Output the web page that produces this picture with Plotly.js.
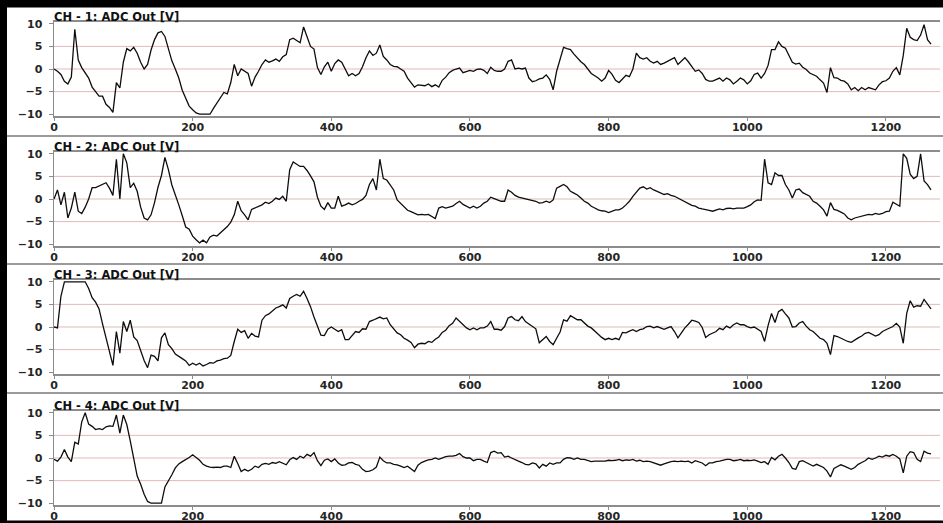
<!DOCTYPE html>
<html><head><meta charset="utf-8">
<script src="https://cdn.plot.ly/plotly-3.0.1.min.js"></script>
<style>html,body{margin:0;padding:0;background:#fff;}#chart{width:943px;height:523px;}</style>
</head><body><div id="chart"></div>
<script>
// sample index (x values)
const sampleIndex = [
0,5,10,15,20,25,30,35,40,45,50,55,60,65,70,75,80,85,90,95,
100,105,110,115,120,125,130,135,140,145,150,155,160,165,170,175,180,185,190,195,
200,205,210,215,220,225,230,235,240,245,250,255,260,265,270,275,280,285,290,295,
300,305,310,315,320,325,330,335,340,345,350,355,360,365,370,375,380,385,390,395,
400,405,410,415,420,425,430,435,440,445,450,455,460,465,470,475,480,485,490,495,
500,505,510,515,520,525,530,535,540,545,550,555,560,565,570,575,580,585,590,595,
600,605,610,615,620,625,630,635,640,645,650,655,660,665,670,675,680,685,690,695,
700,705,710,715,720,725,730,735,740,745,750,755,760,765,770,775,780,785,790,795,
800,805,810,815,820,825,830,835,840,845,850,855,860,865,870,875,880,885,890,895,
900,905,910,915,920,925,930,935,940,945,950,955,960,965,970,975,980,985,990,995,
1000,1005,1010,1015,1020,1025,1030,1035,1040,1045,1050,1055,1060,1065,1070,1075,1080,1085,1090,1095,
1100,1105,1110,1115,1120,1125,1130,1135,1140,1145,1150,1155,1160,1165,1170,1175,1180,1185,1190,1195,
1200,1205,1210,1215,1220,1225,1230,1235,1240,1245,1250,1255,1260,1265];

const ch1 = [
0,-0.5,-1.2,-2.7,-3.3,-1.8,8.8,2,0.3,-0.8,-2,-4,-5,-6,-6,-7.8,-8.5,-9.6,-3,-4.2,
1.5,4.5,4,4.8,3.5,1.5,0,1,4.2,6.5,8,8.3,7.2,4.3,1.8,0,-2,-4.7,-6.5,-8.2,
-9,-9.7,-10,-10,-10,-10,-8.7,-7.5,-6.3,-5.2,-5.5,-3,1,-1.5,0,-0.5,-1,-3.8,-1.8,-0.5,
1,2,1.5,1.8,2.2,1.7,2.7,3.2,6.5,6.8,6.3,5.8,9.3,7,5,4.4,0.3,-1.2,0.5,1.5,
-0.5,1.2,2,1.5,-0.2,-1.5,-1,-1.5,-1,0.5,2.5,4,3,3.5,5.3,2.8,2,1,0.6,0.5,
0,-0.5,-2,-3,-4,-3.5,-3.6,-3.7,-3.3,-3.9,-3.5,-4,-2.5,-1.8,-0.8,-0.3,0,0.2,-0.8,-0.5,
-0.3,-0.5,-0.1,0,-0.3,-1,0.4,-0.3,-0.5,-0.5,0,1.7,2,0,0.2,0,0.2,-2,-2.8,-2.6,
-2.2,-2,-1.3,-2.3,-4.6,-0.5,2.3,4.8,4.5,4.3,3.3,2.4,1.6,1,0,-1,-1.5,-2,-2.7,-2,
-0.3,-1.2,-2.5,-3,-2.2,-1.4,-1.7,0,3.5,2.5,2.2,2.5,1.7,1.3,1.7,1,1.3,1.7,2,2.5,
1,1.7,2.5,1.6,0.5,-0.5,-0.2,-1,-2.3,-2.7,-2.7,-2.4,-2,-2.7,-2,-2.4,-3.3,-2.7,-2,-2.4,
-3.3,-2.6,-1.2,-0.9,-2,-1,0.8,4.3,4.3,6,5,4.6,3,1.5,1.1,1.3,0.4,-0.1,-0.9,-1.3,
-1.6,-2.4,-3.1,-5.2,0.3,-1.9,-2,-2.5,-2.7,-3.3,-4.6,-4.1,-4.8,-4.1,-4.6,-4.1,-4.3,-4.6,-3.5,-2.8,
-2.6,-2,-0.5,0.3,-1.3,3,9,7,6.5,6.3,7.5,9.8,6.5,5.5];

const ch2 = [
0,2,-1.3,1.5,-4.2,-2,1.5,-2.7,-3.2,-1.8,0,2.5,2.5,2.9,3.3,3.6,2.4,0.8,8.8,0,
10,8,2.5,3.5,1.7,-1.8,-4.2,-4.6,-3.5,-0.8,2.6,5.2,9.2,6.5,3.1,1,-1.3,-3.7,-6.2,-6.7,
-8.2,-9,-9.7,-9.1,-9.7,-8.4,-8,-8.2,-7.5,-6.9,-6.1,-5.1,-3.5,-0.5,-2.6,-3.5,-4.6,-2.3,-2,-1.7,
-1.3,-0.7,-1,-0.5,0.2,-0.1,0.6,-0.5,6.5,8.2,7.6,7.2,7.2,6.3,5.1,3.8,0.4,-1.6,-2.3,-0.8,
-2,-2,0.6,-1.6,-1.3,-0.9,-1.3,-1,-0.5,-0.1,0.8,3.2,4.5,2,8.8,4.5,4.2,3.2,2,-0.2,
-1,-1.8,-2.5,-2.8,-3.2,-3.5,-3.4,-3.5,-3.4,-3.8,-4.3,-2,-1.7,-2,-1.8,-1.6,-1,-0.5,-1.2,-1.6,
-2,-1.6,-2,-1.6,-0.9,-0.5,0.4,0.1,-0.2,-0.5,-0.5,2,1.5,0.8,0.4,0.2,0,-0.1,-0.4,-0.5,
-0.9,-0.8,-0.5,-0.8,-0.2,2.4,2.8,3.2,2.7,1.7,1.3,0.9,0.2,-0.5,-0.9,-1.6,-2,-2.4,-2.6,-2.7,
-3,-2.7,-2.4,-2.4,-2,-1.3,-0.5,0.6,1.4,2.4,2.7,2.2,2.5,2,1.7,1.3,1,1.2,0.8,0.6,
0.2,-0.2,-0.5,-0.9,-1.4,-1.6,-2,-2.2,-2.3,-2.5,-2.7,-2.5,-2.2,-2.4,-2.1,-2,-2.2,-2,-2,-2,
-1.7,-1.3,-0.6,-0.2,-0.3,8.8,3.6,3.2,5.8,5.2,5.2,3.2,2,0.2,2,2.2,1.4,1,0.6,-0.5,
-0.9,-1.6,-2.4,-3.8,-0.8,-2.3,-2.5,-2.9,-3.3,-4.2,-4.6,-4.2,-4,-3.8,-3.5,-3.4,-3.5,-3.2,-3.4,-3.2,
-2.8,-2.7,-0.7,-1.2,-1.6,10,9,5.5,4.5,5,10,4,3.2,2];

const ch3 = [
0,-0.2,6.8,10,10,10,10,10,10,10,8.5,6.5,5.5,4,0.7,-2.5,-6,-8.5,-1,-5.8,
1.2,-1,1.5,-2.2,-3,-5.3,-7.4,-9,-6.2,-6.5,-7.5,-2.4,-1.3,-3.9,-4.8,-6,-6.6,-7,-7.5,-8.5,
-8,-8.4,-8,-8.6,-8.3,-7.9,-8,-7.5,-7.3,-7,-6.9,-6.3,-3.2,-0.5,-1.2,-0.8,-2.5,-1.4,-2,-2.2,
1.5,2.5,2.9,3.5,4.2,4.5,4.9,4.2,6.3,6.8,7.2,6.8,7.9,6.3,4.5,2.2,0.3,-1.8,-1.9,-0.5,
0,-0.6,-1,-0.6,-2.8,-2.8,-1.8,-1,-1.2,-0.4,-0.5,1.2,1.5,1.8,2.2,1.8,2,0.5,-0.4,-1.3,
-1.7,-2.5,-2.9,-3.4,-4.6,-3.8,-3.6,-3.7,-3.2,-3.4,-2.7,-2.2,-1.2,-0.7,0.3,0.8,2,1.3,0.5,-0.2,
-0.6,-0.2,-0.6,-0.2,-0.2,0.2,1.2,-0.5,-0.5,-0.7,0.1,2,2.3,1.6,1.4,2.3,1.2,0.6,0.2,-0.4,
-3.5,-2.9,-2.1,-3.2,-3.9,-2.5,-1.1,1.6,1.3,2.5,2,1.6,1.6,0.9,0.2,-0.2,-1,-1.6,-2.3,-2.8,
-2.5,-2.8,-2.5,-2.8,-1.2,-1.3,-0.9,-0.6,-1,-0.6,-0.4,0.1,0.2,-0.2,0.1,-0.2,-0.5,-0.2,0.1,-1,
-2.4,-1.3,-0.2,0.6,1.5,1.3,1,-0.1,-2.3,-1.7,-1.4,-1,-0.3,-0.6,0.2,-0.2,0.5,0.9,0.5,0.5,
0.1,-0.2,0,-0.6,-1,-3.2,0.3,3,1,3.4,3.9,2.9,2,0,0.1,0.9,1.2,0.2,-0.6,-1,
-1.7,-2.5,-2.8,-3.6,-6.1,-1.9,-2.1,-2.5,-2.9,-3.2,-3.4,-2.8,-2.4,-2,-1.4,-1.2,-1.6,-2,-1.7,-1,
-0.6,-0.3,0.1,0.8,0,-3.6,3,5.8,4.4,4.7,4.6,6.1,5,4];

const ch4 = [
-0.3,-0.7,0.2,1.9,0.2,-0.8,3.5,3.1,8,10,7.5,7,6.3,6.5,6.3,6.9,7.1,7,9.5,5.5,
9.5,7.4,3.8,0,-4,-5.8,-8,-9.6,-10,-10,-10,-10,-6.4,-5.2,-3.7,-2.2,-1.3,-0.8,-0.4,0.1,
0.7,0.1,-0.5,-1.4,-1.8,-2,-2.1,-2,-2.1,-1.8,-1.8,-2.1,0.4,-1.2,-3,-2.5,-2.9,-2.5,-1.8,-2.1,
-1.4,-1.2,-1.4,-1,-1.2,-0.8,-1.1,-1.5,-0.4,0.1,-0.3,0.4,0,0.8,0.4,1.2,-0.6,-1.7,-0.5,-0.2,
-0.8,-0.2,-1.1,-1.6,-1.5,-1.1,-1,-1.4,-1.6,-2.5,-3,-2.9,-2.6,-2,0.2,-0.6,-1.1,-1.1,-1.4,-1.5,
-1.8,-2.1,-1.8,-2.4,-3,-1.6,-1,-0.7,-0.4,-0.3,0,-0.3,0,0.3,0.4,0.4,0.6,1,0.3,0,
0,-0.6,-0.3,-0.3,-0.7,-1,1.2,1.5,1.1,1.2,0.2,0.4,0,-0.4,-0.7,-1,-1.4,-1.5,-1.1,-1.3,
-2.2,-1.4,-1.8,-1.1,-1.4,-1.1,-1.1,-0.3,0.1,0,-0.3,0,-0.3,-0.3,-0.6,-0.8,-0.7,-0.7,-0.7,-0.7,
-0.5,-0.6,-0.5,-0.3,-0.6,-0.4,-0.5,-0.3,-0.7,-0.5,-0.8,-0.7,-0.8,-1.1,-1.3,-1.6,-1.3,-1,-0.8,-0.7,
-0.8,-0.7,-0.8,-0.7,-1.1,-0.6,-0.8,-1.1,-1.7,-1.1,-1.1,-0.8,-0.7,-0.5,-0.3,-0.3,-0.6,-0.5,-0.3,-0.6,
-0.5,-0.6,-0.4,-0.7,-1,-0.8,-1.4,0.1,-0.4,0.4,0.8,0,-1,-2.3,-2.5,-0.8,-0.6,-1,-1.4,-1.8,
-1.4,-1.8,-2.1,-2.9,-4.2,-2.3,-1.8,-1.5,-1.8,-2.2,-2.5,-2.1,-1.4,-1,-0.6,0,-0.3,0,0.4,0.2,
0.6,0.4,0.8,0.4,-0.2,-3.3,0.4,1.4,1.2,-0.3,-0.8,1.5,1.1,0.9];

const channelTitles = ['CH - 1: ADC Out [V]','CH - 2: ADC Out [V]','CH - 3: ADC Out [V]','CH - 4: ADC Out [V]'];
const xTickVals = [0,200,400,600,800,1000,1200];
const yTickVals = [-10,-5,0,5,10];
const gridVals = [-5,0,5];

const channels = [ch1,ch2,ch3,ch4];
channels.forEach((c,i)=>{ if(c.length!==sampleIndex.length) console.error('length mismatch ch'+(i+1)+': '+c.length+' vs '+sampleIndex.length); });

const W = 943, H = 523;
const plotTops = [21.75,151.75,279.75,410.75];
const plotH = 94.5;
const xDom = [54/W, 940/W];
const tickFont = {family:'DejaVu Sans, Arial, sans-serif', size:11, color:'#262626', weight:'bold'};

const data = [];
const layout = {
  width:W, height:H, margin:{l:0,r:0,t:0,b:0},
  paper_bgcolor:'#ffffff', plot_bgcolor:'#ffffff',
  showlegend:false, shapes:[], annotations:[]
};

channels.forEach((vals,i)=>{
  const sfx = i===0 ? '' : String(i+1);
  data.push({x:sampleIndex, y:vals, xaxis:'x'+sfx, yaxis:'y'+sfx, type:'scatter', mode:'lines',
    line:{color:'#0d0d0d', width:1.3}, hoverinfo:'skip'});
  const top = plotTops[i], bot = top+plotH;
  layout['xaxis'+sfx] = {domain:xDom, range:[0,1278], anchor:'y'+sfx, tickmode:'array', tickvals:xTickVals,
    ticks:'outside', ticklen:3, tickcolor:'#8c8c8c', showline:true, mirror:true, linecolor:'#8c8c8c', linewidth:2,
    showgrid:false, zeroline:false, tickfont:tickFont, automargin:false, fixedrange:true, ticklabelstandoff:-3};
  layout['yaxis'+sfx] = {domain:[1-bot/H, 1-top/H], range:[-10.45,10.45], anchor:'x'+sfx, tickmode:'array', tickvals:yTickVals,
    ticks:'outside', ticklen:4, tickcolor:'#8c8c8c', showline:true, linecolor:'#8c8c8c', linewidth:1.5,
    showgrid:false, zeroline:false, tickfont:tickFont, automargin:false, fixedrange:true, ticklabelstandoff:4};
  gridVals.forEach(v=>{
    layout.shapes.push({type:'line', xref:'x'+sfx+' domain', x0:0, x1:1, yref:'y'+sfx, y0:v, y1:v,
      line:{color:'#e3b9b9', width:1}, layer:'below'});
  });
  layout.annotations.push({xref:'paper', yref:'paper', x:52/W, y:1-(top-4.6)/H, xanchor:'left', yanchor:'middle',
    text:channelTitles[i], showarrow:false, font:{family:'DejaVu Sans, Arial, sans-serif', size:11.5, color:'#111', weight:'bold'}});
});

// panel separators
[136,264,393].forEach(py=>{
  layout.shapes.push({type:'line', xref:'paper', yref:'paper', x0:7/W, x1:1, y0:1-py/H, y1:1-py/H,
    line:{color:'#9a9a9a', width:2}});
});
// black outer border
layout.shapes.push({type:'rect', xref:'paper', yref:'paper', x0:0, x1:1, y0:1-7.5/H, y1:1, fillcolor:'#000', line:{width:0}});
layout.shapes.push({type:'rect', xref:'paper', yref:'paper', x0:0, x1:7/W, y0:0, y1:1, fillcolor:'#000', line:{width:0}});
layout.shapes.push({type:'rect', xref:'paper', yref:'paper', x0:0, x1:1, y0:0, y1:2.5/H, fillcolor:'#000', line:{width:0}});

Plotly.newPlot('chart', data, layout, {staticPlot:true, displayModeBar:false});
</script>
</body></html>
